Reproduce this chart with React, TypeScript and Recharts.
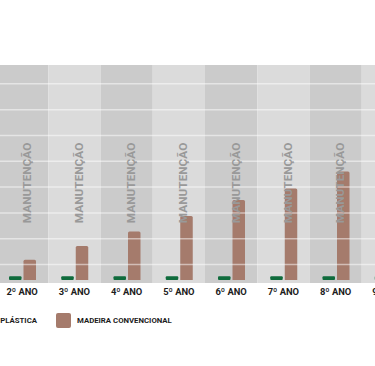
import React from 'react';
import { BarChart, Bar, XAxis, YAxis, ReferenceArea, ReferenceLine, Legend, LabelList } from 'recharts';

const years = ['2º ANO', '3º ANO', '4º ANO', '5º ANO', '6º ANO', '7º ANO', '8º ANO', '9º ANO'];
const plasticValues = [1.5, 1.5, 1.5, 1.5, 1.5, 1.5, 1.5, 1.5];
const woodValues = [7.8, 13.2, 18.8, 24.8, 31, 35.5, 42, 48];
const gridValues = [6, 16, 26, 36, 46, 56, 66, 76];
const yMin = -1.16;
const yMax = 83.3;
const maintenanceLabel = 'MANUTENÇÃO';
const plasticName = 'MADEIRA PLÁSTICA';
const woodName = 'MADEIRA CONVENCIONAL';

const data = years.map((year, i) => ({ year, plastic: plasticValues[i], wood: woodValues[i] }));

const GREEN = '#0f6b3c';
const BROWN = '#a57b6c';
const DARK_COL = '#cbcbcb';
const LIGHT_COL = '#dbdbdb';
const FONT = 'Roboto, "Liberation Sans", sans-serif';

const CHART_W = 418;
const CHART_H = 366;
const MARGIN = { top: 65, right: 0, bottom: 53, left: 0 };
const X_AXIS_H = 30;
const PLOT_H = CHART_H - MARGIN.top - MARGIN.bottom - X_AXIS_H;

const ManutLabel = (props: any) => {
  const { x, width } = props;
  const cx = Number(x) + Number(width) / 2 + 1;
  const cy = MARGIN.top + PLOT_H * 0.541;
  return (
    <text
      x={cx}
      y={cy}
      transform={`rotate(-90 ${cx} ${cy})`}
      textAnchor="middle"
      fill="#999999"
      fontFamily={FONT}
      fontWeight={700}
      fontSize={11.8}
    >
      {maintenanceLabel}
    </text>
  );
};

const LegendContent = () => (
  <div style={{ position: 'relative', height: 0, fontFamily: FONT, fontWeight: 700, fontSize: 7.8, color: '#1c1c1c' }}>
    <div style={{ position: 'absolute', right: CHART_W - 41, top: 0, display: 'flex', alignItems: 'center', whiteSpace: 'nowrap' }}>
      <div style={{ width: 15, height: 15, background: GREEN, borderRadius: 2, marginRight: 6 }} />
      <span>{plasticName}</span>
    </div>
    <div style={{ position: 'absolute', left: 60, top: 0, display: 'flex', alignItems: 'center', whiteSpace: 'nowrap' }}>
      <div style={{ width: 15, height: 15, background: BROWN, borderRadius: 2, marginRight: 6 }} />
      <span>{woodName}</span>
    </div>
  </div>
);

export default function App() {
  return (
    <div style={{ position: 'fixed', left: 0, top: 0, width: 375, height: 366, overflow: 'hidden', background: '#ffffff' }}>
      <div style={{ position: 'absolute', left: -4, top: 0 }}>
        <BarChart width={CHART_W} height={CHART_H} data={data} margin={MARGIN} barSize={12.5} barGap={2}>
          <XAxis
            dataKey="year"
            axisLine={false}
            tickLine={false}
            tickSize={3}
            tickMargin={2}
            interval={0}
            height={X_AXIS_H}
            tick={{ fontSize: 9.4, fontWeight: 700, fill: '#1c1c1c', fontFamily: FONT }}
          />
          <YAxis hide domain={[yMin, yMax]} ticks={gridValues} allowDataOverflow />
          {years.map((y, i) => (
            <ReferenceArea key={'bg' + y} x1={y} x2={y} fill={i % 2 === 0 ? DARK_COL : LIGHT_COL} fillOpacity={1} stroke="none" />
          ))}
          {gridValues.map((v) => (
            <ReferenceLine key={'g' + v} y={v} stroke="#ffffff" strokeOpacity={0.5} strokeWidth={1.5} />
          ))}
          <Bar dataKey="plastic" name={plasticName} fill={GREEN} radius={[1, 1, 1, 1]} isAnimationActive={false} />
          <Bar dataKey="wood" name={woodName} fill={BROWN} radius={[1.5, 1.5, 0, 0]} isAnimationActive={false}>
            <LabelList dataKey="wood" content={<ManutLabel />} />
          </Bar>
          <Legend content={<LegendContent />} wrapperStyle={{ top: 313, left: 0, width: CHART_W, bottom: 'auto' }} />
        </BarChart>
      </div>
    </div>
  );
}
